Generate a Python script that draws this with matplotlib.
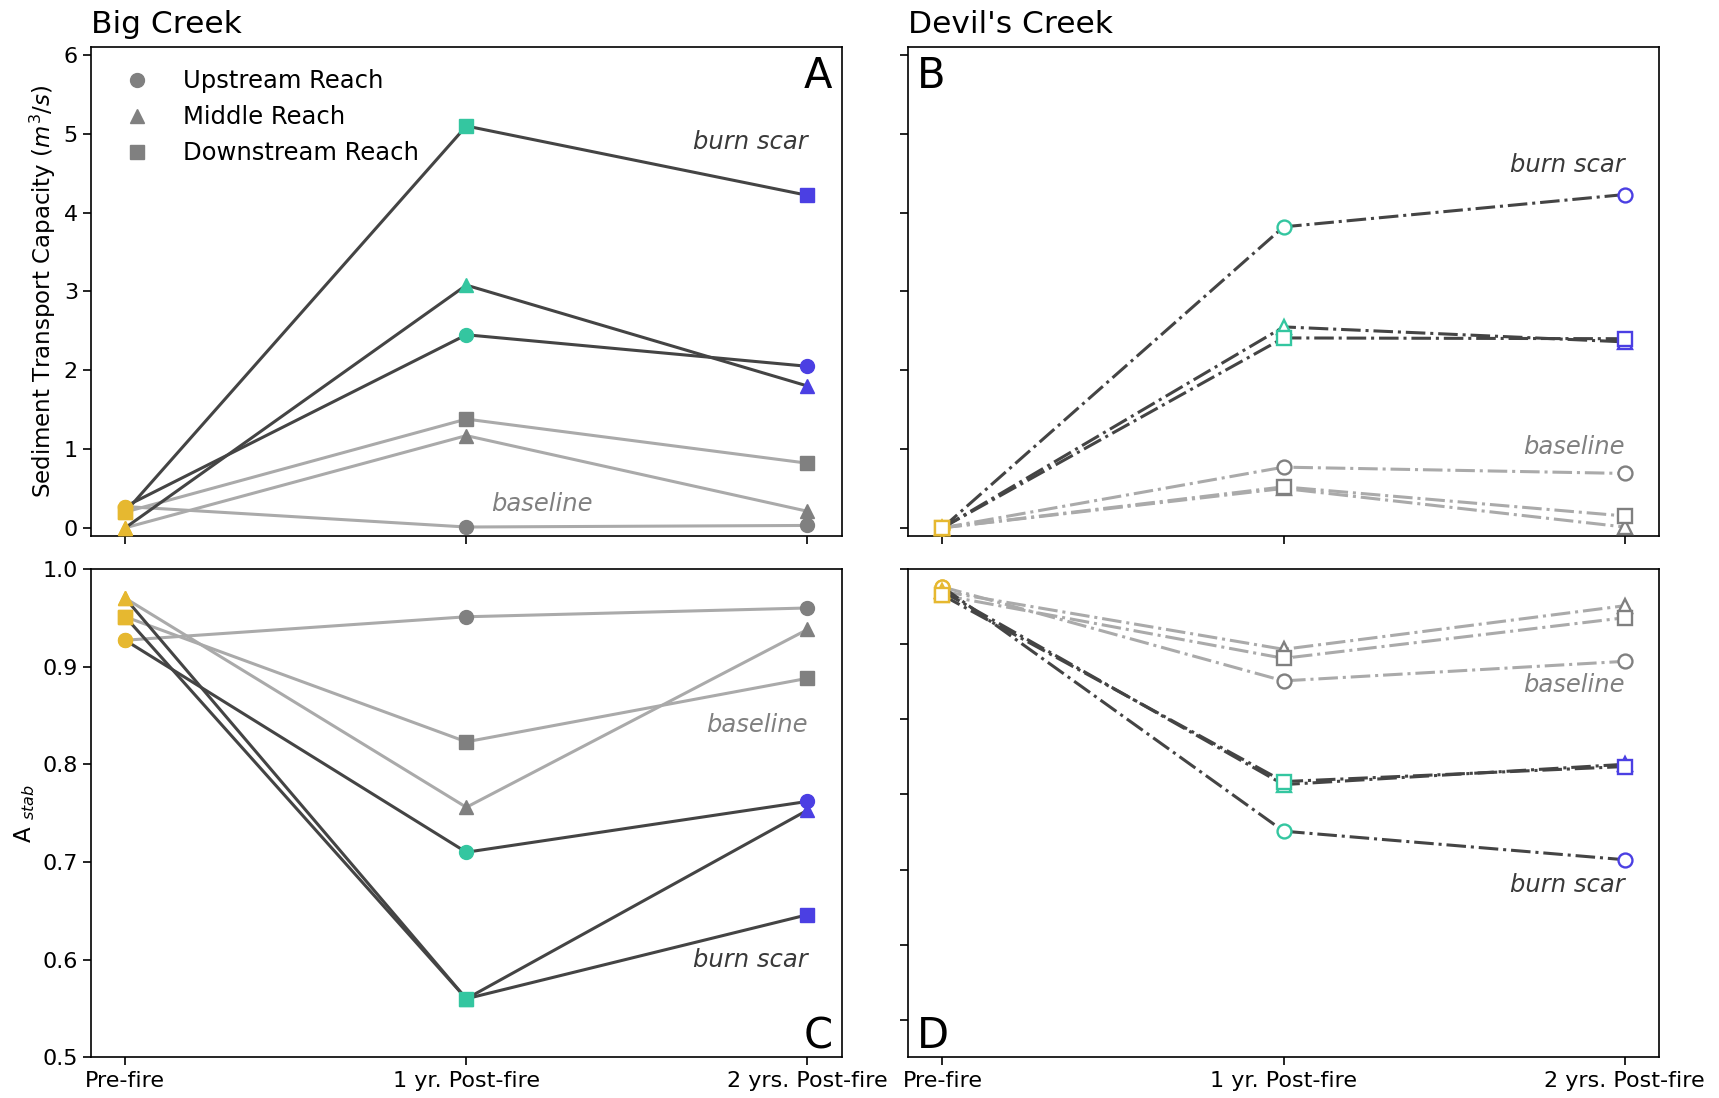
import numpy as np
import matplotlib
matplotlib.use("Agg")
import matplotlib.pyplot as plt
from matplotlib.lines import Line2D

YELLOW = "#E6B830"
TEAL = "#34C6A0"
BLUE = "#4B3FE3"
DARK = "#444444"
LIGHT = "#AAAAAA"
MID = "#808080"

periods = ["Pre-fire", "1 yr. Post-fire", "2 yrs. Post-fire"]
reaches = ["Upstream Reach", "Middle Reach", "Downstream Reach"]
markers = ["o", "^", "s"]

# Big Creek - sediment transport capacity (m3/s)
big_stc_burn_up = [0.27, 2.45, 2.05]
big_stc_burn_mid = [0.00, 3.08, 1.80]
big_stc_burn_down = [0.20, 5.10, 4.22]
big_stc_base_up = [0.27, 0.01, 0.03]
big_stc_base_mid = [0.00, 1.17, 0.21]
big_stc_base_down = [0.20, 1.38, 0.82]

# Devil's Creek - sediment transport capacity (m3/s)
dev_stc_burn_up = [0.0, 3.82, 4.23]
dev_stc_burn_mid = [0.0, 2.55, 2.36]
dev_stc_burn_down = [0.0, 2.41, 2.40]
dev_stc_base_up = [0.0, 0.77, 0.69]
dev_stc_base_mid = [0.0, 0.50, 0.01]
dev_stc_base_down = [0.0, 0.52, 0.15]

# Big Creek - A_stab
big_ast_burn_up = [0.927, 0.710, 0.762]
big_ast_burn_mid = [0.970, 0.560, 0.753]
big_ast_burn_down = [0.951, 0.560, 0.646]
big_ast_base_up = [0.927, 0.951, 0.960]
big_ast_base_mid = [0.970, 0.756, 0.938]
big_ast_base_down = [0.951, 0.823, 0.888]

# Devil's Creek - A_stab
dev_ast_burn_up = [0.976, 0.651, 0.613]
dev_ast_burn_mid = [0.970, 0.713, 0.740]
dev_ast_burn_down = [0.965, 0.717, 0.737]
dev_ast_base_up = [0.976, 0.851, 0.877]
dev_ast_base_mid = [0.970, 0.893, 0.951]
dev_ast_base_down = [0.965, 0.881, 0.935]

plt.rcParams["font.family"] = "DejaVu Sans"

fig, axes = plt.subplots(2, 2, figsize=(17.19, 10.98), dpi=100, sharex=True)
fig.subplots_adjust(left=0.053, right=0.965, top=0.957, bottom=0.037,
                    wspace=0.089, hspace=0.068)
(axA, axB), (axC, axD) = axes
x = np.arange(len(periods))


def draw(ax, burn, base, ls, hollow):
    for series, lcol, mcols in [(base, LIGHT, [YELLOW, MID, MID]),
                                (burn, DARK, [YELLOW, TEAL, BLUE])]:
        for vals, mk in zip(series, markers):
            ax.plot(x, vals, color=lcol, lw=2.2, ls=ls, zorder=2)
            for xi, yi, c in zip(x, vals, mcols):
                if hollow:
                    ax.plot(xi, yi, marker=mk, ms=10, mfc="white", mec=c,
                            mew=1.7, ls="none", zorder=3)
                else:
                    ax.plot(xi, yi, marker=mk, ms=10, mfc=c, mec=c,
                            ls="none", zorder=3)


draw(axA, [big_stc_burn_up, big_stc_burn_mid, big_stc_burn_down],
     [big_stc_base_up, big_stc_base_mid, big_stc_base_down], "-", False)
draw(axB, [dev_stc_burn_up, dev_stc_burn_mid, dev_stc_burn_down],
     [dev_stc_base_up, dev_stc_base_mid, dev_stc_base_down], "-.", True)
draw(axC, [big_ast_burn_up, big_ast_burn_mid, big_ast_burn_down],
     [big_ast_base_up, big_ast_base_mid, big_ast_base_down], "-", False)
draw(axD, [dev_ast_burn_up, dev_ast_burn_mid, dev_ast_burn_down],
     [dev_ast_base_up, dev_ast_base_mid, dev_ast_base_down], "-.", True)

for ax in axes.flat:
    ax.set_xlim(-0.1, 2.1)
    ax.tick_params(labelsize=16, length=6, width=1.2)
    for s in ax.spines.values():
        s.set_linewidth(1.2)
axC.set_xticks(x)
axC.set_xticklabels(periods)
axD.set_xticklabels(periods)

axA.set_ylim(-0.1, 6.1)
axB.set_ylim(-0.1, 6.1)
axC.set_ylim(0.5, 1.0)
axD.set_ylim(0.35, 1.0)
axB.set_yticklabels([])
axD.set_yticklabels([])

axA.set_ylabel("Sediment Transport Capacity ($m^3/s$)", fontsize=16.5)
axC.set_ylabel("A $_{stab}$", fontsize=16.5)
axA.set_title("Big Creek", loc="left", fontsize=22.5, pad=10)
axB.set_title("Devil's Creek", loc="left", fontsize=22.5, pad=10)

lab = dict(fontsize=17.5, style="italic")
axA.text(2, 4.9, "burn scar", ha="right", va="center", color="#3a3a3a", **lab)
axA.text(1.22, 0.3, "baseline", ha="center", va="center", color=MID, **lab)
axB.text(2, 4.6, "burn scar", ha="right", va="center", color="#3a3a3a", **lab)
axB.text(2, 1.02, "baseline", ha="right", va="center", color=MID, **lab)
axC.text(2, 0.84, "baseline", ha="right", va="center", color=MID, **lab)
axC.text(2, 0.6, "burn scar", ha="right", va="center", color="#3a3a3a", **lab)
axD.text(2, 0.845, "baseline", ha="right", va="center", color=MID, **lab)
axD.text(2, 0.58, "burn scar", ha="right", va="center", color="#3a3a3a", **lab)

for ax, letter, xa, ya, ha, va in [(axA, "A", 0.988, 0.985, "right", "top"),
                                   (axB, "B", 0.012, 0.985, "left", "top"),
                                   (axC, "C", 0.988, 0.0, "right", "bottom"),
                                   (axD, "D", 0.012, 0.0, "left", "bottom")]:
    ax.text(xa, ya, letter, transform=ax.transAxes, ha=ha, va=va, fontsize=30)

handles = [Line2D([], [], marker=m, color=MID, ls="none", ms=10) for m in markers]
axA.legend(handles, reaches, loc="upper left", frameon=False, fontsize=17.5,
           borderaxespad=0.5, handletextpad=0.9, labelspacing=0.5)

fig.savefig("out.png", dpi=100)
